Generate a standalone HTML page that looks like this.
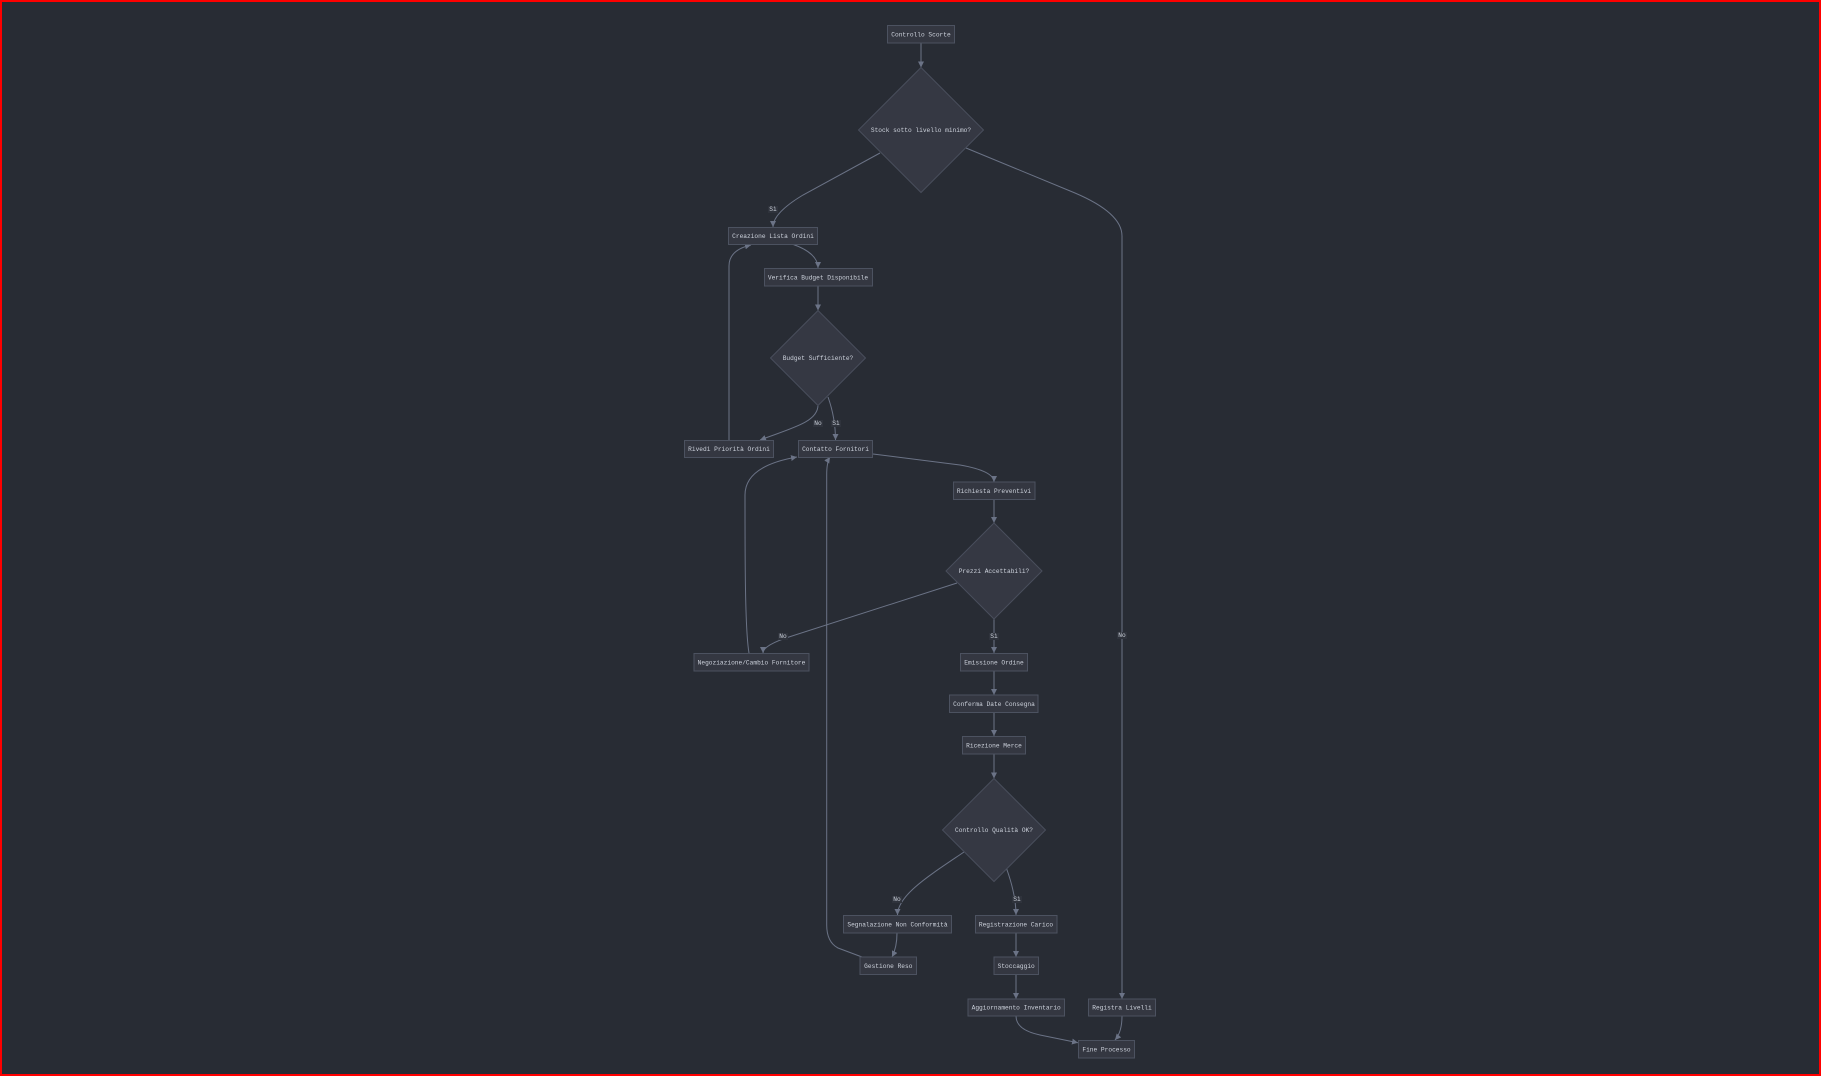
<!DOCTYPE html>
<html><head><meta charset="utf-8"><style>
html,body{margin:0;padding:0;background:#282c34;}
svg{display:block;}
text{font-family:"Liberation Mono",monospace;font-size:6.2px;fill:#cdd2dc;}
.n{fill:#343741;stroke:#4c5260;stroke-width:1;}
.d{fill:#353843;stroke:#494e5c;stroke-width:1;}
.e{fill:none;stroke:#6b7386;stroke-width:1;}
.lb{fill:#2f333c;}
</style></head><body>
<svg width="1821" height="1076" viewBox="0 0 1821 1076" xmlns="http://www.w3.org/2000/svg">
<defs>
<marker id="a" viewBox="0 0 10 10" refX="10" refY="5" markerWidth="6" markerHeight="6" markerUnits="userSpaceOnUse" orient="auto">
<path d="M0,0 L10,5 L0,10 z" fill="#6b7386"/>
</marker>
</defs>
<rect x="0" y="0" width="1821" height="1076" fill="#282c34"/>
<rect x="1" y="1" width="1819" height="1074" fill="none" stroke="#ff0000" stroke-width="2"/>

<!-- edges -->
<path class="e" d="M921,43 L921,67.5" marker-end="url(#a)"/>
<path class="e" d="M880,153 L803,195 Q773,213 773,227" marker-end="url(#a)"/>
<path class="e" d="M966,148 L1075,193 Q1122,213 1122,236 L1122,999" marker-end="url(#a)"/>
<path class="e" d="M792,244 Q818,253 818,268" marker-end="url(#a)"/>
<path class="e" d="M818,286 L818,310.5" marker-end="url(#a)"/>
<path class="e" d="M818,405 C818,422 792,428 760,440" marker-end="url(#a)"/>
<path class="e" d="M828,397 Q835.5,418 835.5,440" marker-end="url(#a)"/>
<path class="e" d="M729,440 L729,266 Q729,250 751,245" marker-end="url(#a)"/>
<path class="e" d="M873,454 L960,465 Q994,471 994,482" marker-end="url(#a)"/>
<path class="e" d="M994,500 L994,523" marker-end="url(#a)"/>
<path class="e" d="M957,583 L792,636 Q763,645 763,653" marker-end="url(#a)"/>
<path class="e" d="M994,619 L994,653" marker-end="url(#a)"/>
<path class="e" d="M749,653 C745,630 745,560 745,495 Q745,466 797,457" marker-end="url(#a)"/>
<path class="e" d="M994,671 L994,695" marker-end="url(#a)"/>
<path class="e" d="M994,712.5 L994,736" marker-end="url(#a)"/>
<path class="e" d="M994,754 L994,778.5" marker-end="url(#a)"/>
<path class="e" d="M964,852 C930,875 897.5,895 897.5,915" marker-end="url(#a)"/>
<path class="e" d="M1006.7,869 Q1016,895 1016,915" marker-end="url(#a)"/>
<path class="e" d="M897,933 Q897,947 892,957" marker-end="url(#a)"/>
<path class="e" d="M862,957 L838,948 Q826.7,942 826.7,925 L826.7,475 Q826.7,462 830,457" marker-end="url(#a)"/>
<path class="e" d="M1016,933 L1016,957" marker-end="url(#a)"/>
<path class="e" d="M1016,975 L1016,999" marker-end="url(#a)"/>
<path class="e" d="M1016,1016 Q1016,1030 1040,1035 L1078,1042.7" marker-end="url(#a)"/>
<path class="e" d="M1122,1016 Q1122,1032 1115,1040" marker-end="url(#a)"/>

<!-- edge labels -->
<g text-anchor="middle">
<rect class="lb" x="768" y="206" width="10" height="7"/><text x="773" y="211.2">Sì</text>
<rect class="lb" x="1117" y="632" width="10" height="7"/><text x="1122" y="637.2">No</text>
<rect class="lb" x="813" y="420" width="10" height="7"/><text x="818" y="425.2">No</text>
<rect class="lb" x="831" y="420" width="10" height="7"/><text x="836" y="425.2">Sì</text>
<rect class="lb" x="778" y="633" width="10" height="7"/><text x="783" y="638.2">No</text>
<rect class="lb" x="989" y="633" width="10" height="7"/><text x="994" y="638.2">Sì</text>
<rect class="lb" x="892" y="896" width="10" height="7"/><text x="897" y="901.2">No</text>
<rect class="lb" x="1012" y="896" width="10" height="7"/><text x="1017" y="901.2">Sì</text>
</g>

<!-- nodes -->
<g text-anchor="middle">
<rect class="n" x="887.5" y="25.5" width="67" height="17.5"/><text x="921" y="36.3">Controllo Scorte</text>
<polygon class="d" points="921,67.5 983.5,130 921,192.5 858.5,130"/><text x="921" y="132.2">Stock sotto livello minimo?</text>
<rect class="n" x="728.5" y="227.5" width="89" height="17"/><text x="773" y="238">Creazione Lista Ordini</text>
<rect class="n" x="764.5" y="268.5" width="108" height="17.5"/><text x="818" y="279.5">Verifica Budget Disponibile</text>
<polygon class="d" points="818,310.5 865.5,358 818,405.5 770.5,358"/><text x="818" y="360.2">Budget Sufficiente?</text>
<rect class="n" x="684.5" y="440.5" width="89" height="17"/><text x="729" y="451">Rivedi Priorità Ordini</text>
<rect class="n" x="798.5" y="440.5" width="74" height="17"/><text x="835.5" y="451">Contatto Fornitori</text>
<rect class="n" x="953.5" y="482" width="81.5" height="17.5"/><text x="994" y="492.8">Richiesta Preventivi</text>
<polygon class="d" points="994,523 1042,571 994,619 946,571"/><text x="994" y="573.2">Prezzi Accettabili?</text>
<rect class="n" x="694" y="653.5" width="115" height="17.5"/><text x="751.5" y="664.3">Negoziazione/Cambio Fornitore</text>
<rect class="n" x="960.5" y="653.5" width="67" height="17.5"/><text x="994" y="664.3">Emissione Ordine</text>
<rect class="n" x="949.5" y="695" width="88.5" height="17.5"/><text x="994" y="705.8">Conferma Date Consegna</text>
<rect class="n" x="962.5" y="736.5" width="63" height="17.5"/><text x="994" y="747.3">Ricezione Merce</text>
<polygon class="d" points="994,778.5 1045.5,830 994,881.5 942.5,830"/><text x="994" y="832.2">Controllo Qualità OK?</text>
<rect class="n" x="843.5" y="915.5" width="108" height="17.5"/><text x="897.5" y="926.3">Segnalazione Non Conformità</text>
<rect class="n" x="975.5" y="915.5" width="81.5" height="17.5"/><text x="1016" y="926.3">Registrazione Carico</text>
<rect class="n" x="860" y="957" width="56.5" height="17.5"/><text x="888.3" y="967.8">Gestione Reso</text>
<rect class="n" x="994" y="957" width="44.5" height="17.5"/><text x="1016.2" y="967.8">Stoccaggio</text>
<rect class="n" x="968" y="999" width="96.5" height="17"/><text x="1016.2" y="1009.5">Aggiornamento Inventario</text>
<rect class="n" x="1088.5" y="999" width="67" height="17"/><text x="1122" y="1009.5">Registra Livelli</text>
<rect class="n" x="1078.5" y="1040.5" width="56" height="17.5"/><text x="1106.5" y="1051.3">Fine Processo</text>
</g>
</svg>
</body></html>
